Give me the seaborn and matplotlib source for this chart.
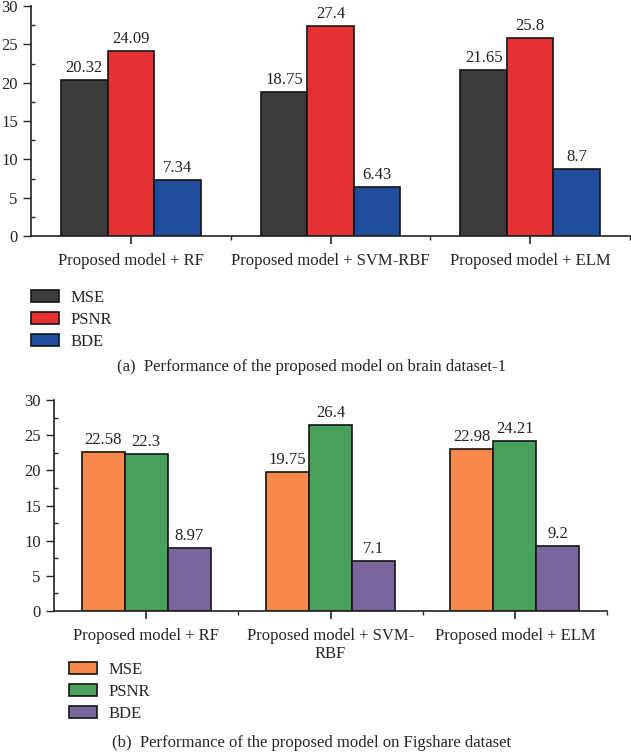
import pandas as pd, matplotlib
matplotlib.use("Agg")
import matplotlib.pyplot as plt
import seaborn as sns
from matplotlib.ticker import MultipleLocator, FixedLocator

# data
metrics = ["MSE", "PSNR", "BDE"]
models = ["Proposed model + RF", "Proposed model + SVM-RBF", "Proposed model + ELM"]
labels_a = ["Proposed model + RF", "Proposed model + SVM-RBF", "Proposed model + ELM"]
labels_b = ["Proposed model + RF", "Proposed model + SVM-\nRBF", "Proposed model + ELM"]

mse_a = [20.32, 18.75, 21.65]
psnr_a = [24.09, 27.4, 25.8]
bde_a = [7.34, 6.43, 8.7]

mse_b = [22.58, 19.75, 22.98]
psnr_b = [22.3, 26.4, 24.21]
bde_b = [8.97, 7.1, 9.2]

colors_a = ["#3a3c3d", "#e43233", "#1f4e9f"]
colors_b = ["#f6894b", "#4aa25a", "#7a679e"]

sns.set_style("ticks")
plt.rcParams["font.family"] = ["Liberation Serif", "DejaVu Serif"]
plt.rcParams["font.size"] = 12


def to_frame(mse, psnr, bde):
    rows = []
    for m, vals in zip(metrics, [mse, psnr, bde]):
        for model, v in zip(models, vals):
            rows.append({"model": model, "metric": m, "value": v})
    return pd.DataFrame(rows)


fig = plt.figure(figsize=(6.31, 7.53), dpi=100)
W, H = 631, 753

def px_axes(left, right, top, bottom):
    return fig.add_axes([left / W, 1 - bottom / H, (right - left) / W, (bottom - top) / H])

panels = [
    (px_axes(31, 630, 6, 236), to_frame(mse_a, psnr_a, bde_a), colors_a, labels_a,
     (31, 290), "(a)  Performance of the proposed model on brain dataset-1", 367),
    (px_axes(54, 607, 400, 611), to_frame(mse_b, psnr_b, bde_b), colors_b, labels_b,
     (69, 662), "(b)  Performance of the proposed model on Figshare dataset", 743),
]

for ax, df, cols, xlabels, (lx, ly), caption, cy in panels:
    sns.barplot(data=df, x="model", y="value", hue="metric", order=models,
                hue_order=metrics, palette=cols, width=0.7, edgecolor="#151515",
                linewidth=1.2, saturation=1, ax=ax)
    for cont in ax.containers:
        ax.bar_label(cont, fmt="%g", padding=3, fontsize=12, color="#222222")
    ax.set_ylim(0, 30)
    ax.set_xlim(-0.5, 2.5)
    ax.yaxis.set_major_locator(MultipleLocator(5))
    ax.yaxis.set_minor_locator(MultipleLocator(2.5))
    ax.set_xticks([0, 1, 2])
    ax.set_xticklabels(xlabels, fontsize=12)
    ax.xaxis.set_minor_locator(FixedLocator([0.5, 1.5, 2.5]))
    ax.tick_params(axis="y", which="major", direction="out", length=6, width=1, labelsize=12)
    ax.tick_params(axis="y", which="minor", direction="in", length=3, width=1)
    ax.tick_params(axis="x", which="major", direction="out", length=6, width=1.2, pad=6)
    ax.tick_params(axis="x", which="minor", direction="out", length=3, width=1)
    ax.set_xlabel("")
    ax.set_ylabel("")
    sns.despine(ax=ax)
    for s in ["left", "bottom"]:
        ax.spines[s].set_linewidth(1.2)
        ax.spines[s].set_color("#222222")
    handles, labs = ax.get_legend_handles_labels()
    ax.legend(handles, labs, loc="upper left", bbox_to_anchor=(lx / W, 1 - ly / H),
              bbox_transform=fig.transFigure, frameon=False, borderpad=0,
              borderaxespad=0, handlelength=1.7, handleheight=0.7,
              handletextpad=0.7, labelspacing=0.35, fontsize=12)
    fig.text(0.493, 1 - cy / H, caption, ha="center", va="center", fontsize=12)

plt.savefig("out.png", dpi=100)
plt.close()
